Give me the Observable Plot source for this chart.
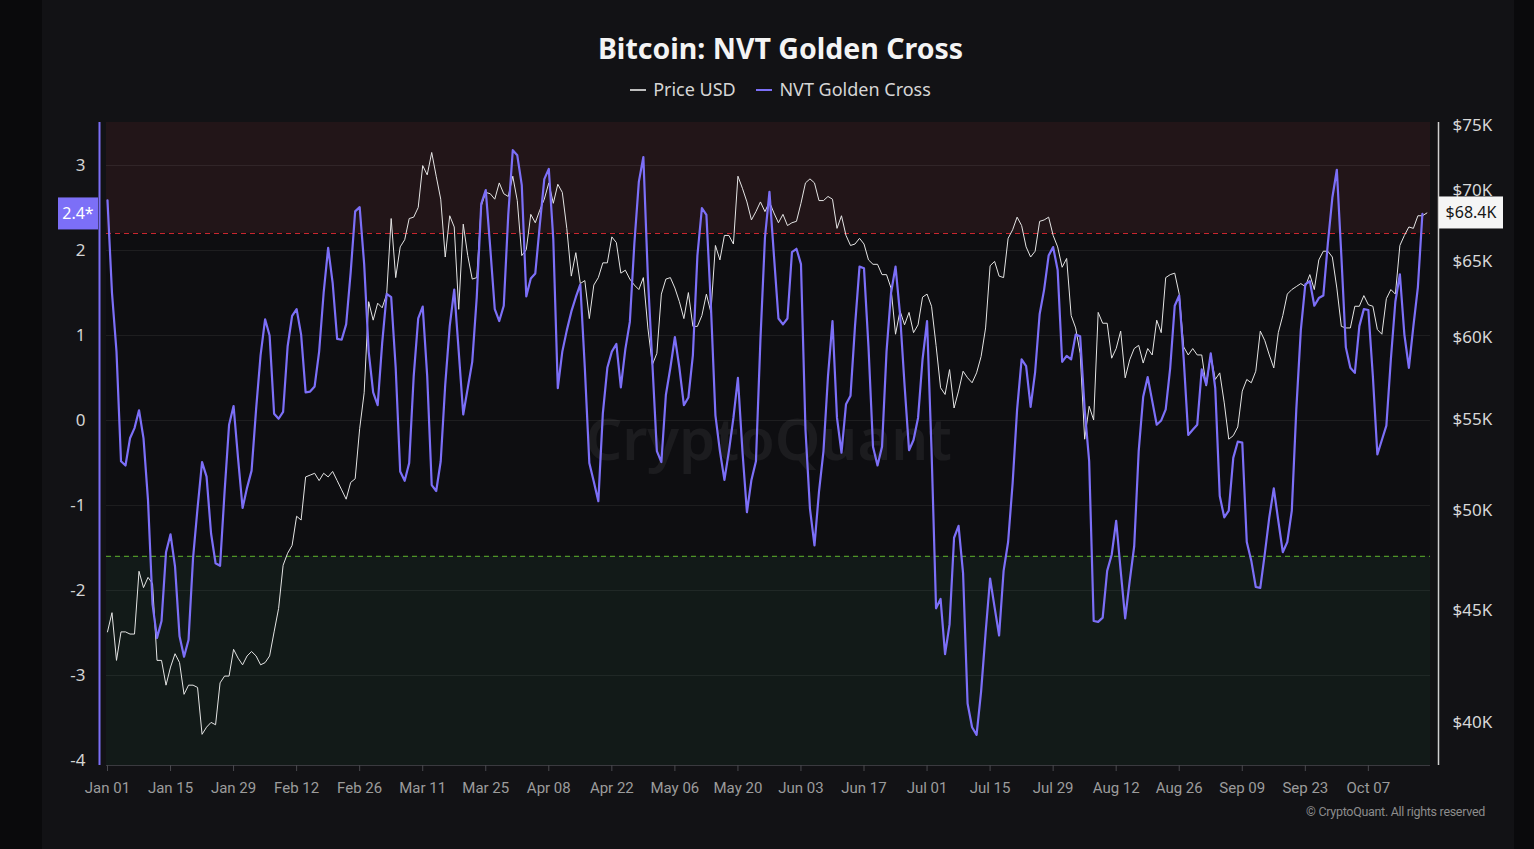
<!DOCTYPE html>
<html>
<head>
<meta charset="utf-8">
<script src="https://cdn.jsdelivr.net/npm/d3@7"></script>
<script src="https://cdn.jsdelivr.net/npm/@observablehq/plot@0.6"></script>
<style>
  html, body { margin: 0; padding: 0; background: #0a0a0c; }
  #page { position: relative; width: 1534px; height: 849px; overflow: hidden; background: #0a0a0c; font-family: "Noto Sans", sans-serif; }
  #card { position: absolute; left: 42px; top: 0; width: 1472px; height: 849px; background: #121215; }
  #title { position: absolute; left: 0; width: 1561px; top: 29px; text-align: center; color: #f4f4f4; font-weight: 700; font-size: 28.5px; line-height: 38px; }
  #legend { position: absolute; left: 0; width: 1561px; top: 77px; text-align: center; color: #d6d6d6; font-size: 18px; line-height: 24px; }
  #legend .item { display: inline-block; margin: 0 8px; }
  #legend .sw { display: inline-block; width: 16px; height: 2px; vertical-align: middle; margin-right: 7px; position: relative; top: -1px; }
  #chart { position: absolute; left: 0; top: 110px; }
  #caption { position: absolute; right: 49px; top: 804px; color: #8c8c8c; font-family: Roboto, sans-serif; font-size: 12.5px; letter-spacing: -0.3px; }
</style>
</head>
<body>
<div id="page">
  <div id="card"></div>
  <div id="title">Bitcoin: NVT Golden Cross</div>
  <div id="legend">
    <span class="item"><span class="sw" style="background:#bdbdbd"></span>Price USD</span>
    <span class="item"><span class="sw" style="background:#7c6ff7"></span>NVT Golden Cross</span>
  </div>
  <div id="chart"></div>
  <div id="caption">© CryptoQuant. All rights reserved</div>
</div>
<script>
// ---- data (daily, starting 2024-01-01) ----
const startDate = "2024-01-01";

// Price USD, in thousands of dollars (Jan 01 .. Oct 20)
const priceUSD = [
  44.0, 44.9, 42.7, 44.0, 44.0, 43.9, 43.9, 46.9, 46.1, 46.6,
  46.3, 42.7, 42.7, 41.6, 42.4, 43.0, 42.6, 41.2, 41.6, 41.6,
  41.5, 39.5, 39.8, 40.0, 39.9, 41.7, 42.0, 42.0, 43.2, 42.8,
  42.5, 42.9, 43.1, 42.9, 42.5, 42.6, 42.9, 44.0, 45.1, 47.2,
  47.8, 48.2, 49.7, 49.5, 51.8, 51.9, 52.0, 51.6, 52.0, 51.8,
  52.1, 51.6, 51.1, 50.6, 51.5, 51.7, 54.5, 56.6, 62.3, 61.1,
  62.2, 61.9, 62.8, 68.0, 63.9, 66.0, 66.5, 68.0, 68.1, 68.8,
  71.9, 71.2, 72.9, 71.1, 69.4, 65.3, 68.2, 67.4, 61.8, 67.6,
  65.4, 63.8, 63.9, 68.9, 69.9, 69.8, 69.4, 70.6, 69.8, 69.6,
  71.1, 69.3, 65.4, 65.8, 68.3, 67.7, 68.6, 69.4, 70.6, 69.1,
  70.5, 69.9, 67.3, 64.0, 65.6, 63.5, 63.7, 61.2, 63.4, 63.9,
  64.9, 64.9, 66.7, 66.3, 64.2, 64.4, 63.8, 63.4, 63.1, 63.9,
  60.6, 58.3, 59.0, 62.8, 63.8, 63.9, 63.2, 62.3, 61.2, 62.9,
  60.7, 60.7, 61.4, 62.8, 61.6, 66.1, 65.1, 66.8, 66.8, 66.2,
  71.1, 70.2, 69.2, 67.9, 68.5, 69.2, 68.5, 69.2, 68.4, 67.7,
  68.3, 67.5, 67.7, 67.8, 69.1, 70.6, 70.9, 70.6, 69.3, 69.3,
  69.6, 69.4, 67.3, 68.2, 66.8, 66.1, 66.2, 66.6, 66.2, 65.1,
  64.8, 64.8, 64.1, 64.1, 63.2, 60.2, 61.7, 60.8, 61.6, 60.3,
  60.8, 62.6, 62.8, 62.0, 59.5, 56.9, 56.5, 58.0, 55.7, 56.7,
  57.9, 57.5, 57.2, 57.8, 58.8, 60.6, 64.7, 65.0, 64.0, 63.9,
  66.6, 67.2, 68.1, 67.5, 66.0, 65.3, 65.7, 67.8, 67.9, 68.1,
  66.8, 66.0, 64.6, 65.2, 61.4, 60.6, 59.0, 53.9, 55.8, 55.0,
  61.6, 60.9, 60.9, 58.7, 59.3, 60.4, 57.5, 58.6, 59.3, 59.5,
  58.4, 59.3, 58.9, 61.1, 60.3, 63.9, 64.1, 64.2, 62.8, 59.4,
  58.9, 59.3, 58.9, 58.9, 57.0, 58.9, 57.4, 57.8, 56.0, 53.9,
  54.1, 54.6, 56.7, 57.4, 57.2, 57.9, 60.4, 59.8, 58.9, 58.1,
  60.3, 61.4, 62.8, 63.1, 63.3, 63.5, 63.3, 64.1, 63.1, 65.1,
  65.7, 65.7, 65.3, 63.2, 60.7, 60.6, 60.6, 62.0, 62.0, 62.7,
  62.1, 62.0, 60.5, 60.2, 62.5, 63.1, 62.8, 66.1, 66.8, 67.4,
  67.3, 68.2, 68.2, 68.4
];

// NVT Golden Cross (Jan 01 .. Oct 19)
const nvtGoldenCross = [
  2.59, 1.50, 0.81, -0.48, -0.53, -0.21, -0.09, 0.12, -0.21, -0.94,
  -2.16, -2.56, -2.36, -1.55, -1.34, -1.72, -2.54, -2.78, -2.58, -1.62,
  -1.03, -0.49, -0.66, -1.33, -1.68, -1.71, -0.84, -0.05, 0.17, -0.45,
  -1.03, -0.79, -0.59, 0.13, 0.77, 1.19, 1.00, 0.08, 0.02, 0.10,
  0.87, 1.23, 1.31, 1.01, 0.33, 0.34, 0.40, 0.81, 1.50, 2.03,
  1.62, 0.96, 0.95, 1.13, 1.74, 2.46, 2.51, 1.84, 0.81, 0.33,
  0.18, 0.91, 1.49, 1.45, 0.62, -0.60, -0.71, -0.50, 0.52, 1.20,
  1.34, 0.52, -0.76, -0.83, -0.48, 0.42, 1.11, 1.54, 0.81, 0.07,
  0.38, 0.69, 1.45, 2.55, 2.71, 2.03, 1.31, 1.17, 1.35, 2.42,
  3.18, 3.12, 2.77, 1.46, 1.67, 1.73, 2.30, 2.84, 2.96, 2.13,
  0.38, 0.81, 1.06, 1.28, 1.45, 1.60, 0.62, -0.50, -0.72, -0.95,
  0.08, 0.62, 0.81, 0.90, 0.39, 0.84, 1.16, 2.08, 2.81, 3.10,
  1.69, 0.67, -0.36, -0.49, 0.30, 0.62, 0.98, 0.62, 0.18, 0.27,
  0.77, 1.94, 2.50, 2.42, 1.35, 0.06, -0.36, -0.70, -0.36, 0.03,
  0.50, -0.36, -1.08, -0.70, -0.48, 0.95, 2.15, 2.69, 1.94, 1.20,
  1.13, 1.20, 1.98, 2.02, 1.84, -0.11, -1.04, -1.47, -0.84, -0.36,
  0.52, 1.17, 0.03, -0.38, 0.19, 0.29, 1.11, 1.81, 1.79, 0.86,
  -0.31, -0.53, -0.31, 0.81, 1.50, 1.81, 1.25, 0.42, -0.35, -0.23,
  0.03, 0.72, 1.17, -0.36, -2.21, -2.10, -2.75, -2.40, -1.38, -1.24,
  -1.80, -3.33, -3.61, -3.70, -3.19, -2.50, -1.86, -2.20, -2.53, -1.77,
  -1.43, -0.74, 0.13, 0.72, 0.64, 0.16, 0.57, 1.25, 1.54, 1.94,
  2.04, 1.77, 0.69, 0.76, 0.72, 1.01, 0.99, 0.13, -0.48, -2.36,
  -2.37, -2.32, -1.77, -1.58, -1.18, -1.77, -2.33, -1.89, -1.48, -0.36,
  0.28, 0.51, 0.23, -0.05, 0.00, 0.13, 0.62, 1.35, 1.47, 0.72,
  -0.17, -0.11, -0.05, 0.60, 0.42, 0.79, 0.38, -0.89, -1.14, -1.06,
  -0.44, -0.25, -0.26, -1.43, -1.65, -1.96, -1.97, -1.57, -1.14, -0.80,
  -1.18, -1.55, -1.43, -1.06, 0.13, 1.06, 1.60, 1.64, 1.35, 1.44,
  1.47, 2.08, 2.62, 2.95, 1.94, 0.86, 0.62, 0.56, 1.11, 1.31,
  1.30, 0.52, -0.40, -0.23, -0.06, 0.72, 1.40, 1.72, 1.01, 0.62,
  1.11, 1.57, 2.43
];

// thresholds of the shaded zones
const upperThreshold = 2.2;
const lowerThreshold = -1.6;

// tick values / labels
const nvtTicks = [-4, -3, -2, -1, 0, 1, 2, 3];
const gridTicks = [-3, -2, -1, 0, 1, 2, 3];
const priceTicksK = [40, 45, 50, 55, 60, 65, 70, 75];
const xTickLabels = ["2024-01-01","2024-01-15","2024-01-29","2024-02-12","2024-02-26","2024-03-11","2024-03-25",
  "2024-04-08","2024-04-22","2024-05-06","2024-05-20","2024-06-03","2024-06-17","2024-07-01","2024-07-15",
  "2024-07-29","2024-08-12","2024-08-26","2024-09-09","2024-09-23","2024-10-07"];

// ---- build ----
const DAY = 864e5;
const t0 = Date.parse(startDate + "T00:00:00Z");
const dateAt = i => new Date(t0 + i * DAY);
const priceRows = priceUSD.map((p, i) => ({date: dateAt(i), price: p}));
const nvtRows = nvtGoldenCross.map((v, i) => ({date: dateAt(i), nvt: v}));
const xTicks = xTickLabels.map(s => new Date(s + "T00:00:00Z"));

const xDomain = [new Date(t0 - 0.22 * DAY), new Date(t0 + 293.8 * DAY)];
const yDomain = [-4.06, 3.506];

// right-hand (log) price axis expressed on the left scale
const LOG_A = 3.4706, LOG_B = 11.173, P_REF = 75;
const toLeft = p => LOG_A - LOG_B * Math.log(P_REF / p);
const fromLeft = v => P_REF / Math.exp((LOG_A - v) / LOG_B);

const zones = [
  {y1: upperThreshold, y2: yDomain[1], fill: "#221518"},
  {y1: lowerThreshold, y2: upperThreshold, fill: "#0e0e11"},
  {y1: yDomain[0], y2: lowerThreshold, fill: "#121a18"}
];

const purple = "#7c6ff7";
const lastNvt = nvtGoldenCross[nvtGoldenCross.length - 1];
const lastPrice = priceUSD[priceUSD.length - 1];

function leftBadge(index, scales) {
  const cy = scales.y(lastNvt);
  const g = d3.create("svg:g");
  g.append("rect").attr("x", 58).attr("y", cy - 16).attr("width", 40).attr("height", 32).attr("fill", purple);
  g.append("text").attr("x", 78).attr("y", cy).attr("dy", "0.35em").attr("text-anchor", "middle")
    .attr("fill", "#ffffff").attr("font-size", 16).text(lastNvt.toFixed(1) + "*");
  return g.node();
}
function rightBadge(index, scales) {
  const cy = scales.y(toLeft(lastPrice));
  const g = d3.create("svg:g");
  g.append("rect").attr("x", 1439).attr("y", cy - 16).attr("width", 64).attr("height", 32).attr("fill", "#f5f5f5");
  g.append("text").attr("x", 1471).attr("y", cy).attr("dy", "0.35em").attr("text-anchor", "middle")
    .attr("fill", "#161616").attr("font-size", 16).text("$" + lastPrice.toFixed(1) + "K");
  return g.node();
}

const chart = Plot.plot({
  width: 1534,
  height: 700,
  marginLeft: 106,
  marginRight: 104,
  marginTop: 12,
  marginBottom: 45,
  style: {background: "transparent", color: "#d4d4d4", fontFamily: "'Noto Sans', sans-serif", fontSize: "17px", overflow: "visible"},
  x: {type: "utc", domain: xDomain},
  y: {domain: yDomain},
  marks: [
    Plot.rect(zones, {x1: xDomain[0], x2: xDomain[1], y1: "y1", y2: "y2", fill: "fill"}),
    Plot.ruleY(gridTicks, {stroke: "#ffffff", strokeOpacity: 0.07}),
    Plot.ruleY([upperThreshold], {stroke: "#c9262e", strokeDasharray: "5,4", strokeWidth: 1.2}),
    Plot.ruleY([lowerThreshold], {stroke: "#4f9428", strokeDasharray: "5,4", strokeWidth: 1.2}),
    Plot.text(["CryptoQuant"], {frameAnchor: "middle", dy: -3, fontSize: 58, fontWeight: 600, fill: "#ffffff", fillOpacity: 0.06}),
    Plot.ruleY([yDomain[0]], {stroke: "#3a3a3f"}),
    Plot.line(priceRows, {x: "date", y: d => toLeft(d.price), stroke: "#e4e4e4", strokeWidth: 1}),
    Plot.line(nvtRows, {x: "date", y: "nvt", stroke: purple, strokeWidth: 2.2}),
    Plot.ruleX([xDomain[0]], {dx: -7, stroke: purple, strokeWidth: 2}),
    Plot.ruleX([xDomain[1]], {dx: 8, stroke: "#d0d0d0", strokeWidth: 1.5}),
    Plot.axisY(nvtTicks, {anchor: "left", tickSize: 0, tickPadding: 21, fill: "#d4d4d4", fontSize: 17,
      tickFormat: d => String(d)}),
    Plot.axisY(priceTicksK.map(toLeft), {anchor: "right", tickSize: 0, tickPadding: 22, fill: "#d8d8d8", fontSize: 17,
      tickFormat: v => "$" + Math.round(fromLeft(v)) + "K"}),
    Plot.axisX(xTicks, {tickSize: 6, tickPadding: 11, tickFormat: d3.utcFormat("%b %d"), fill: "#9c9c9c", stroke: "#4a4a4f", fontSize: 15, fontFamily: "Roboto, sans-serif"}),
    leftBadge,
    rightBadge
  ]
});
document.getElementById("chart").appendChild(chart);
</script>
</body>
</html>
